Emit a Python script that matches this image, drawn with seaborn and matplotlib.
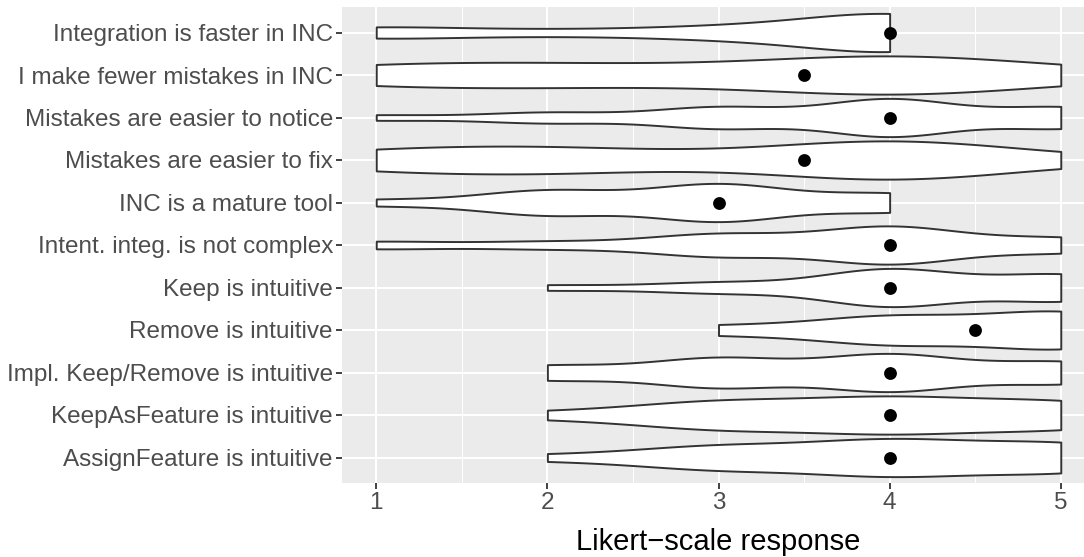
import numpy as np
import pandas as pd
import matplotlib.pyplot as plt
import seaborn as sns

# survey statements, top to bottom
questions = [
    "Integration is faster in INC",
    "I make fewer mistakes in INC",
    "Mistakes are easier to notice",
    "Mistakes are easier to fix",
    "INC is a mature tool",
    "Intent. integ. is not complex",
    "Keep is intuitive",
    "Remove is intuitive",
    "Impl. Keep/Remove is intuitive",
    "KeepAsFeature is intuitive",
    "AssignFeature is intuitive",
]
levels = [1, 2, 3, 4, 5]

# number of answers per Likert level (1..5) for each statement
counts_faster = [2, 1, 2, 7, 0]
counts_fewer = [3, 3, 2, 6, 2]
counts_notice = [1, 2, 4, 7, 4]
counts_fix = [3, 4, 1, 7, 1]
counts_mature = [1, 4, 6, 3, 0]
counts_complex = [1, 1, 3, 5, 2]
counts_keep = [0, 1, 2, 7, 5]
counts_remove = [0, 0, 1, 3, 4]
counts_impl = [0, 2, 4, 5, 3]
counts_keepasfeature = [0, 1, 4, 5, 4]
counts_assign = [0, 1, 4, 6, 5]

all_counts = [counts_faster, counts_fewer, counts_notice, counts_fix, counts_mature,
              counts_complex, counts_keep, counts_remove, counts_impl,
              counts_keepasfeature, counts_assign]

rows = []
for q, c in zip(questions, all_counts):
    for v in np.repeat(levels, c):
        rows.append({"question": q, "response": v})
df = pd.DataFrame(rows)


def nrd0_factor(x):
    """R's bw.nrd0 written as a factor of the sample sd (what scipy's kde wants)"""
    x = np.asarray(x, dtype=float)
    sd = x.std(ddof=1)
    iqr = np.percentile(x, 75) - np.percentile(x, 25)
    lo = min(sd, iqr / 1.34) if iqr > 0 else sd
    return 0.9 * lo * len(x) ** -0.2 / sd


plt.rcParams['font.family'] = ['Liberation Sans', 'DejaVu Sans']
fig = plt.figure(figsize=(10.84, 5.57), dpi=100)
ax = fig.add_axes([342 / 1084, 1 - 483 / 557, (1095 - 342) / 1084, (483 - 7) / 557])
ax.set_facecolor('#EBEBEB')

# one call per statement so every violin gets its own bandwidth
for q in questions:
    sub = df[df["question"] == q]
    sns.violinplot(data=sub, x="response", y="question", order=questions, orient="h",
                   cut=0, density_norm="width", width=0.9, inner=None,
                   bw_method=nrd0_factor(sub["response"]), gridsize=200,
                   color="white", linecolor="#333333", linewidth=1.4,
                   saturation=1, ax=ax, zorder=3)

sns.pointplot(data=df, x="response", y="question", order=questions, orient="h",
              estimator="median", errorbar=None, linestyle="none", marker="o",
              color="black", markersize=7.2, ax=ax, zorder=4)

ax.set_xlim(0.8, 5.2)
ax.set_ylim(len(questions) - 0.4, -0.6)
ax.set_xticks([1, 2, 3, 4, 5])
ax.set_xticklabels(["1", "2", "3", "4", "5"])
ax.set_xticks([1.5, 2.5, 3.5, 4.5], minor=True)
ax.grid(which="major", color="white", linewidth=1.5, zorder=0)
ax.grid(which="minor", axis="x", color="white", linewidth=0.75, zorder=0)
ax.set_axisbelow(True)
for s in ax.spines.values():
    s.set_visible(False)
ax.tick_params(which="major", length=4.5, width=1.3, color="#333333",
               labelsize=17.5, labelcolor="#4D4D4D", pad=2)
ax.tick_params(which="minor", length=0)
ax.set_xlabel("Likert\u2212scale response", fontsize=21, color="black", labelpad=10)
ax.set_ylabel("")

fig.savefig("out.png", dpi=100)
